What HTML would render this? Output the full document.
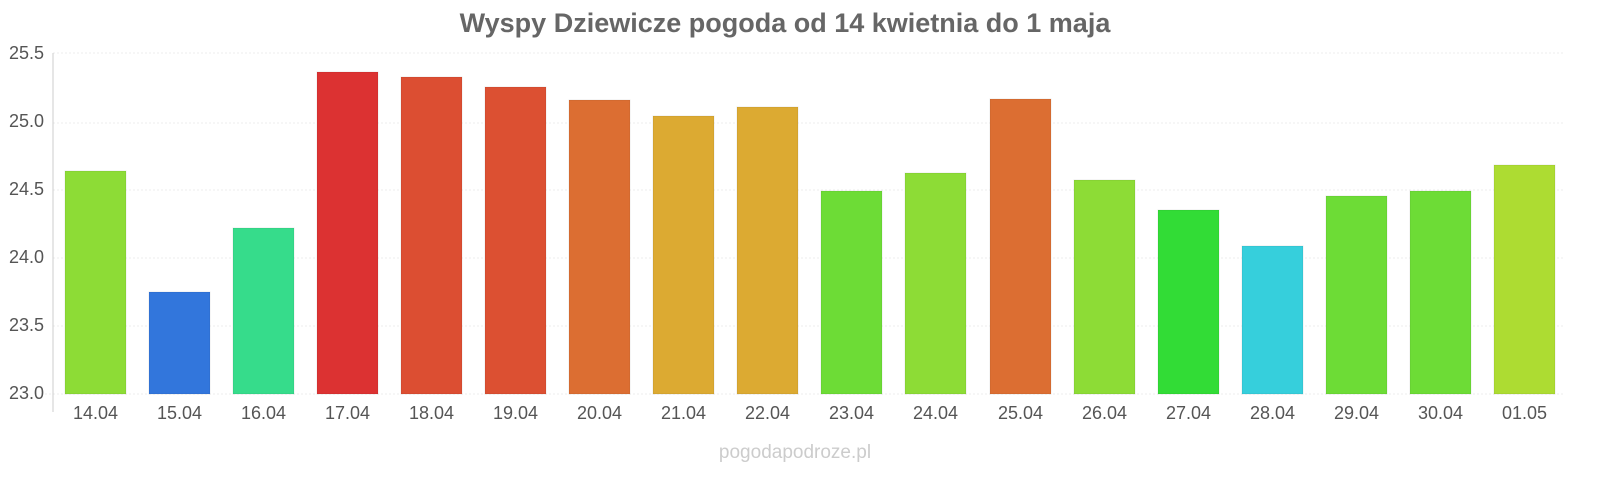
<!DOCTYPE html>
<html><head><meta charset="utf-8"><style>
body{margin:0;background:#fff;}
svg text{font-family:"Liberation Sans",Arial,sans-serif;}
</style></head><body>
<svg width="1600" height="480" viewBox="0 0 1600 480" xmlns="http://www.w3.org/2000/svg">
<text x="785" y="32" text-anchor="middle" font-size="27" font-weight="bold" fill="#666">Wyspy Dziewicze pogoda od 14 kwietnia do 1 maja</text>
<g stroke="#eee" stroke-width="1" stroke-dasharray="2,2">
<line x1="53" x2="1565" y1="53" y2="53"/><line x1="53" x2="1565" y1="123" y2="123"/><line x1="53" x2="1565" y1="190" y2="190"/><line x1="53" x2="1565" y1="258" y2="258"/><line x1="53" x2="1565" y1="326" y2="326"/><line x1="45" x2="1565" y1="394" y2="394"/>
</g>
<line x1="53" x2="53" y1="53" y2="412" stroke="#ccc"/>
<g font-size="18" fill="#555" text-anchor="end">
<text x="44" y="59">25.5</text><text x="44" y="127">25.0</text><text x="44" y="195">24.5</text><text x="44" y="263">24.0</text><text x="44" y="331">23.5</text><text x="44" y="399">23.0</text>
</g>
<g stroke="rgba(0,0,0,0.08)">
<rect x="65" y="171" width="61" height="223" fill="#8ddc36"/>
<rect x="149" y="292" width="61" height="102" fill="#3276dc"/>
<rect x="233" y="228" width="61" height="166" fill="#36dc8b"/>
<rect x="317" y="72" width="61" height="322" fill="#dc3232"/>
<rect x="401" y="77" width="61" height="317" fill="#dc4e32"/>
<rect x="485" y="87" width="61" height="307" fill="#dc5032"/>
<rect x="569" y="100" width="61" height="294" fill="#dc6e32"/>
<rect x="653" y="116" width="61" height="278" fill="#dcaa32"/>
<rect x="737" y="107" width="61" height="287" fill="#dcaa32"/>
<rect x="821" y="191" width="61" height="203" fill="#6ddc36"/>
<rect x="905" y="173" width="61" height="221" fill="#8ddc36"/>
<rect x="990" y="99" width="61" height="295" fill="#dc6e32"/>
<rect x="1074" y="180" width="61" height="214" fill="#8ddc36"/>
<rect x="1158" y="210" width="61" height="184" fill="#32dc36"/>
<rect x="1242" y="246" width="61" height="148" fill="#36cfdc"/>
<rect x="1326" y="196" width="61" height="198" fill="#6ddc36"/>
<rect x="1410" y="191" width="61" height="203" fill="#6ddc36"/>
<rect x="1494" y="165" width="61" height="229" fill="#addc32"/>
</g>
<g font-size="18" fill="#555" text-anchor="middle">
<text x="95.5" y="419">14.04</text><text x="179.5" y="419">15.04</text><text x="263.5" y="419">16.04</text><text x="347.5" y="419">17.04</text><text x="431.5" y="419">18.04</text><text x="515.5" y="419">19.04</text><text x="599.5" y="419">20.04</text><text x="683.5" y="419">21.04</text><text x="767.5" y="419">22.04</text><text x="851.5" y="419">23.04</text><text x="935.5" y="419">24.04</text><text x="1020.5" y="419">25.04</text><text x="1104.5" y="419">26.04</text><text x="1188.5" y="419">27.04</text><text x="1272.5" y="419">28.04</text><text x="1356.5" y="419">29.04</text><text x="1440.5" y="419">30.04</text><text x="1524.5" y="419">01.05</text>
</g>
<text x="795" y="458" text-anchor="middle" font-size="19" fill="#ccc">pogodapodroze.pl</text>
</svg>
</body></html>
